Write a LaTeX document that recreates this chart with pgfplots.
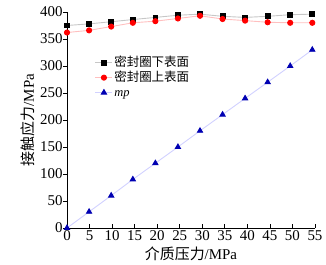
\documentclass[border=0pt]{standalone}
\usepackage{pgfplots}
\pgfplotsset{compat=1.18}
\usepackage{fontspec}
\setmainfont{Liberation Serif}
\newfontfamily\cjk{Noto Sans CJK SC}
\begin{document}
\begin{tikzpicture}
\begin{axis}[
  scale only axis,
  width=248bp, height=216bp,
  xmin=0, xmax=55, ymin=0, ymax=400,
  axis lines*=left,
  axis line style={line width=0.9pt},
  tick style={black, line width=0.7pt},
  tick align=inside,
  major tick length=4pt,
  every y tick/.append style={xshift=-4pt},
  xtick={0,5,...,55},
  ytick={0,50,...,400},
  tick label style={font=\fontsize{15}{16}\selectfont},
  yticklabel style={xshift=-1pt},
  xticklabel style={yshift=1pt},
  /pgf/number format/assume math mode=true,
  xlabel={\cjk 介质压力\rmfamily /MPa},
  ylabel={\cjk 接触应力\rmfamily /MPa},
  label style={font=\fontsize{15}{16}\selectfont},
  xlabel style={yshift=1pt},
  ylabel style={yshift=-2pt},
  legend style={draw=none, fill=none, at={(0.1,0.81)}, anchor=north west,
    font=\fontsize{12.5}{13}\selectfont, row sep=0pt,
    nodes={inner sep=1.5pt, text height=9.5pt, text depth=2.5pt}},
  legend cell align=left,
  clip=false,
]
\addplot[color=black!22, line width=0.9pt, mark=square*, mark size=2.4pt,
  mark options={draw=black, fill=black}]
  coordinates {(0,375) (4.9,378) (9.8,382) (14.6,386) (19.6,390) (24.6,394) (29.5,396) (34.5,392) (39.5,390) (44.5,392) (49.5,395) (54.4,396)};
\addlegendentry{\cjk 密封圈下表面}
\addplot[color=red!25, line width=0.9pt, mark=*, mark size=2.6pt,
  mark options={draw=red, fill=red}]
  coordinates {(0,362) (4.9,366) (9.8,373) (14.6,380) (19.6,383) (24.6,388) (29.5,393) (34.5,387) (39.5,384) (44.5,381) (49.5,380) (54.4,380)};
\addlegendentry{\cjk 密封圈上表面}
\addplot[color=blue!18, line width=0.9pt, mark=triangle*, mark size=3pt,
  mark options={draw=blue!70!black, fill=blue!70!black}]
  coordinates {(0,0) (4.9,30) (9.8,60) (14.6,90) (19.6,120) (24.6,150) (29.5,180) (34.5,210) (39.5,240) (44.5,270) (49.5,300) (54.4,330)};
\addlegendentry{\textit{mp}}
\path (rel axis cs:0,0) ++(-67bp,-37bp) coordinate (bbA);
\path (rel axis cs:1,1) ++(11bp,12bp) coordinate (bbB);
\end{axis}
\path[use as bounding box] (bbA) rectangle (bbB);
\end{tikzpicture}
\end{document}
